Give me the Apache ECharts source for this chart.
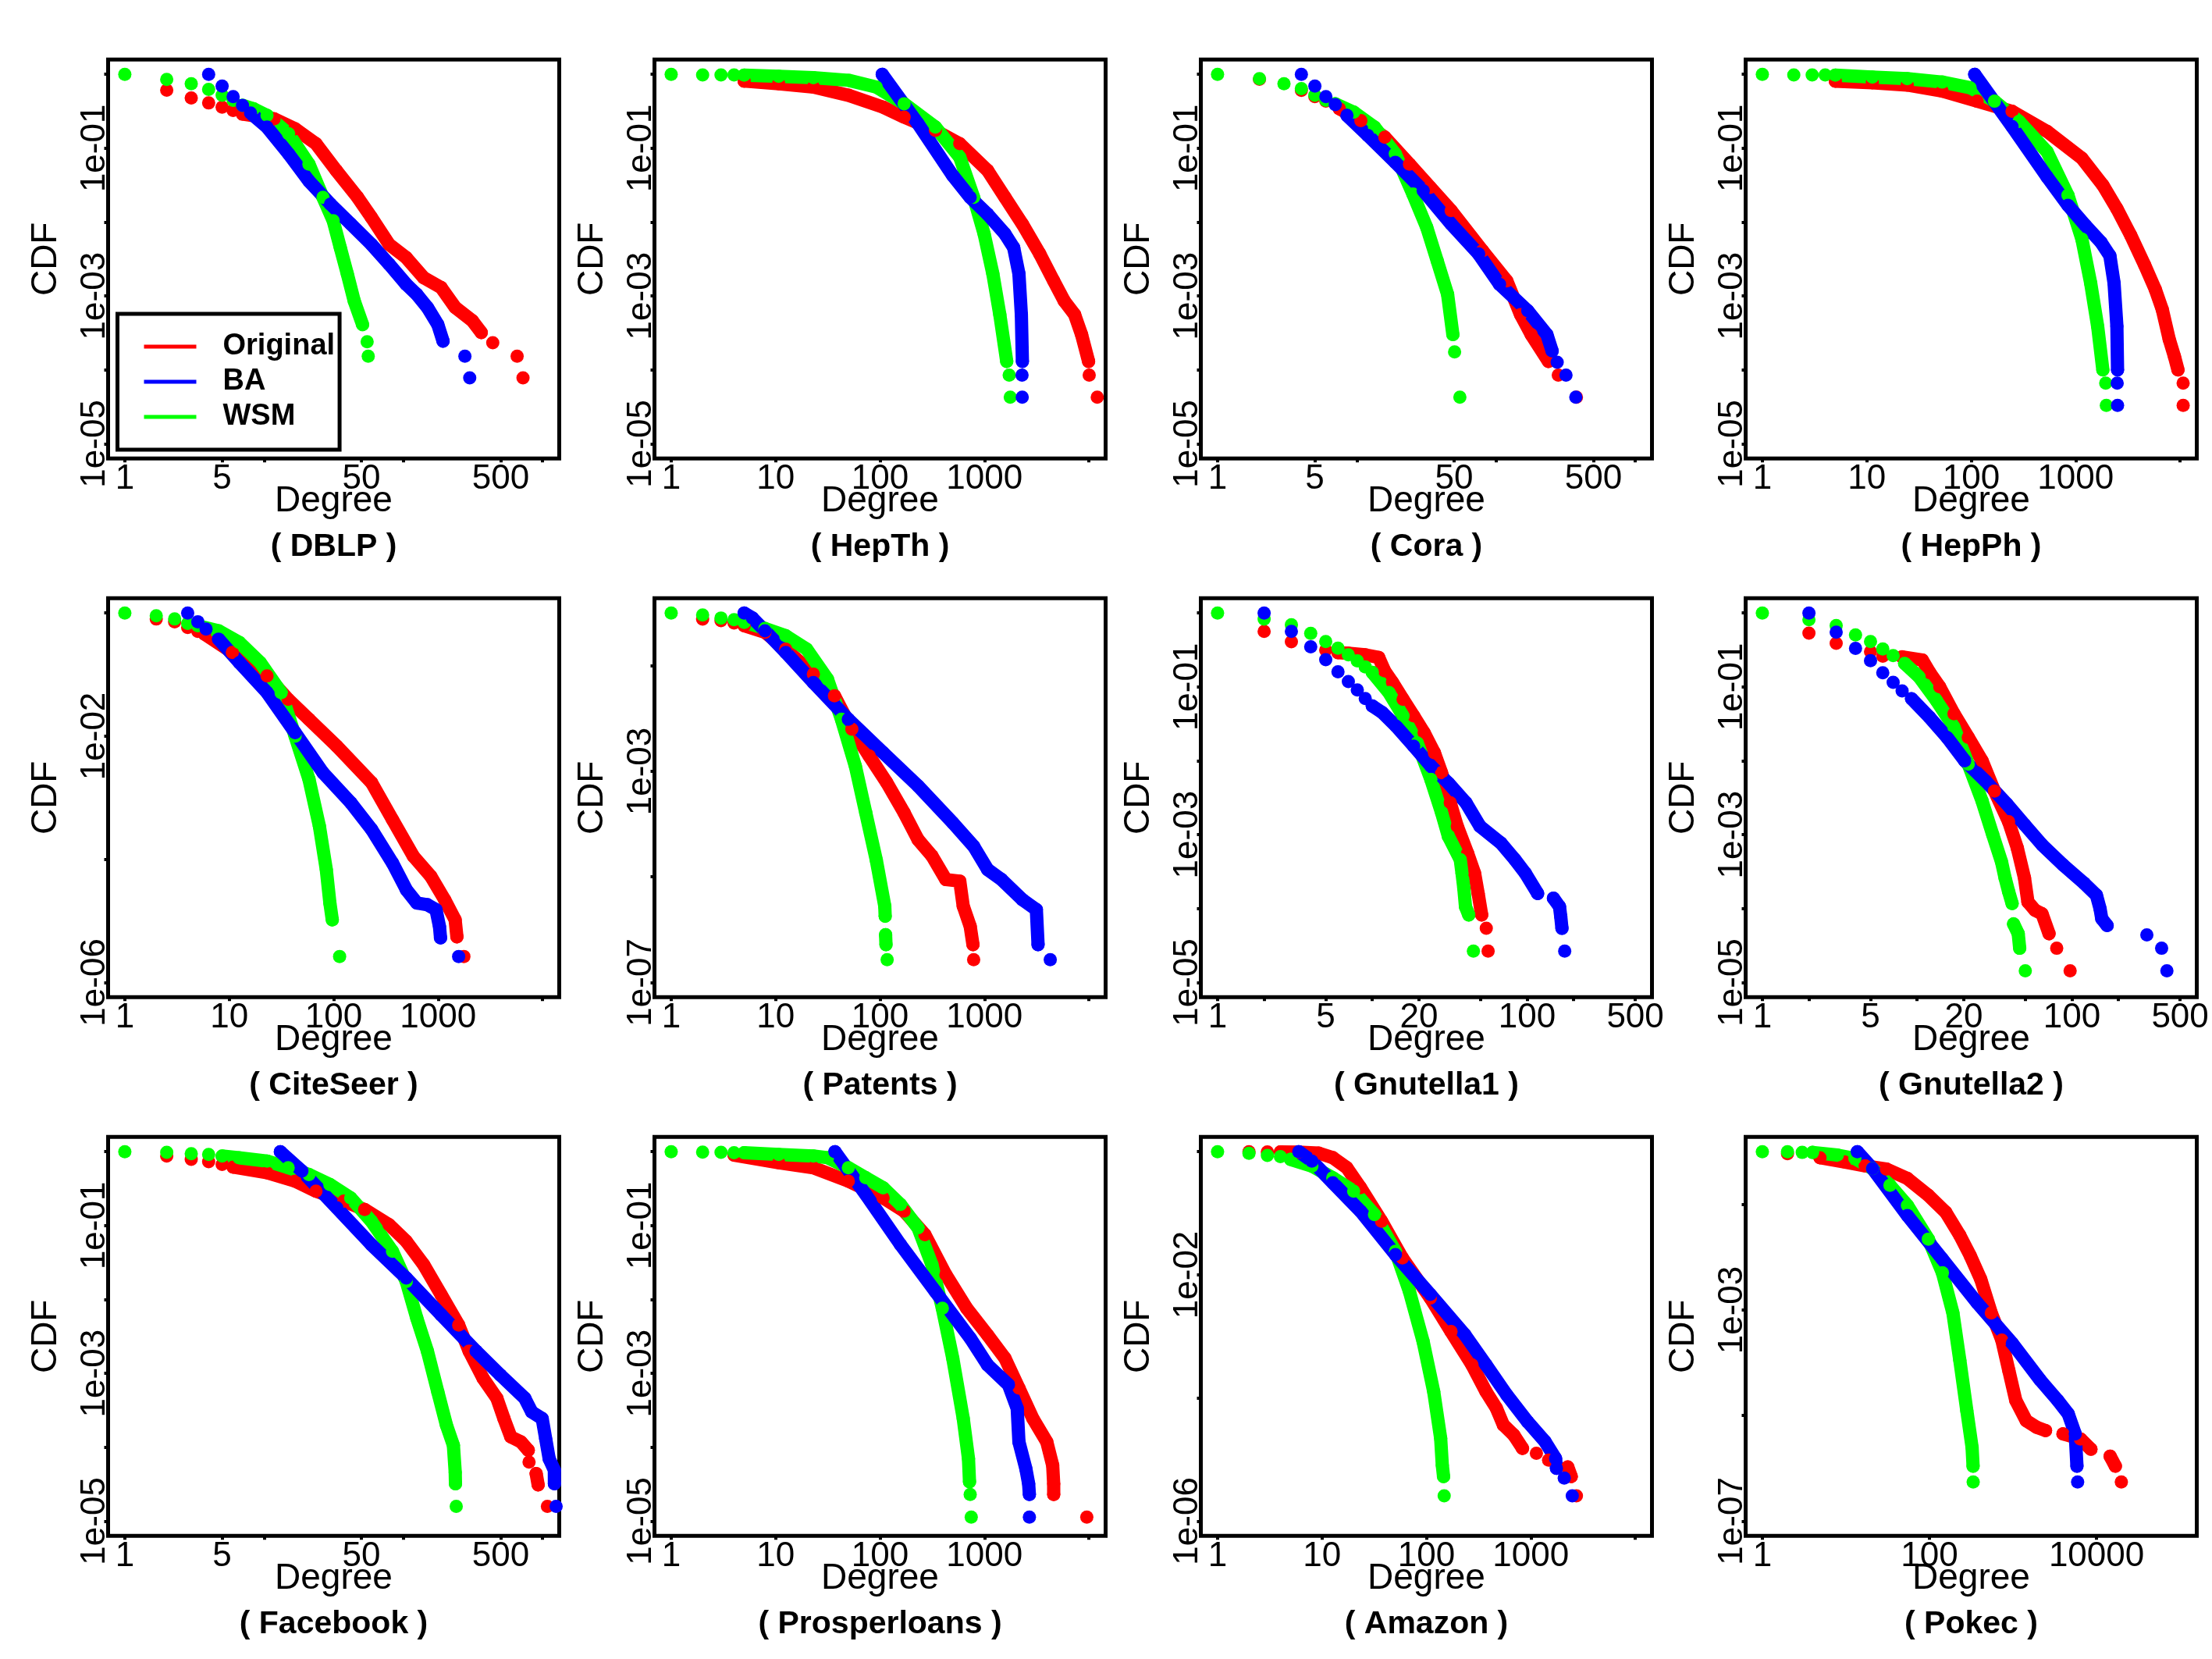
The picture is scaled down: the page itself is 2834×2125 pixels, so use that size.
<!DOCTYPE html>
<html>
<head>
<meta charset="utf-8">
<title>Degree CDF comparison</title>
<script src="https://cdn.jsdelivr.net/npm/echarts@6/dist/echarts.min.js"></script>
<style>
  html, body { margin: 0; padding: 0; background: #fff; }
  #chart { width: 2834px; height: 2125px; }
</style>
</head>
<body>
<div id="chart"></div>
<script>
"use strict";

// ---- tick values / axis limits (R style, 4% padding added below) ----
var xTicksFives = [1, 5, 10, 50, 100, 500, 1000], xLabelsFives = [1, 5, 50, 500], xLimFives = [1, 1000];
var xTicksTens = [1, 10, 100, 1000, 10000], xLabelsTens = [1, 10, 100, 1000], xLimTens = [1, 10000];
var xTicksGnut = [1, 2, 5, 10, 20, 50, 100, 200, 500], xLabelsGnut = [1, 5, 20, 100, 500], xLimGnut = [1, 500];
var xTicksPokec = [1, 100, 10000], xLabelsPokec = [1, 100, 10000], xLimPokec = [1, 100000];
var yTicks5 = [1e-5, 1e-4, 1e-3, 1e-2, 1e-1, 1], yLabels5 = [1e-5, 1e-3, 1e-1], yLim5 = [1e-5, 1];
var yTicks6 = [1e-6, 1e-4, 1e-2, 1], yLabels6 = [1e-6, 1e-2], yLim6 = [1e-6, 1];
var yTicks7 = [1e-7, 1e-5, 1e-3, 1e-1], yLabels7 = [1e-7, 1e-3], yLim7 = [1e-7, 1];

var seriesNames = ['Original', 'BA', 'WSM'];

// ---- data: [degree, CCDF]; each inner list is a run of touching dots ----
var dblpOriginal = [[[2, 0.61]], [[3, 0.48]], [[4, 0.41]], [[5, 0.36]], [[6, 0.325]],
  [[7, 0.29], [11.8, 0.25], [16.7, 0.183], [23.6, 0.115], [33, 0.05], [47, 0.0216], [59, 0.0116], [79, 0.005], [105, 0.0033], [140, 0.00177], [187, 0.0013], [236, 0.0007], [314, 0.00046], [363, 0.00032]],
  [[439, 0.000233]], [[657, 0.000153]], [[724, 0.000078]]];
var dblpBA = [[[4, 1]], [[5, 0.695]], [[6, 0.5]], [[7, 0.38]],
  [[8, 0.3], [10.5, 0.193], [15, 0.084], [21, 0.036], [30, 0.0175], [42, 0.0094], [59, 0.005], [79, 0.0027], [105, 0.00144], [125, 0.00105], [149, 0.0007], [177, 0.00041], [193, 0.000245]],
  [[277, 0.000153]], [[300, 0.000078]]];
var dblpWSM = [[[1, 1]], [[2, 0.855]], [[3, 0.747]], [[4, 0.626]], [[5, 0.52]], [[6, 0.444]],
  [[7, 0.38], [8.4, 0.342], [10.5, 0.278], [15, 0.157], [21, 0.061], [26.5, 0.0216], [31.4, 0.0104], [35.3, 0.0045], [39.6, 0.002], [44.4, 0.00086], [51, 0.00041]],
  [[55, 0.00024]], [[56, 0.000153]]];

var hepthOriginal = [[[5, 0.81], [10.7, 0.747], [23, 0.673], [50, 0.52], [107, 0.36], [170, 0.264], [339, 0.174], [580, 0.115], [1071, 0.05], [1573, 0.0216], [2308, 0.0094], [3388, 0.0037], [4603, 0.0016], [5797, 0.00086], [7300, 0.00056], [8511, 0.0003], [9931, 0.00013]],
  [[10070, 0.000085]], [[12023, 0.0000426]]];
var hepthBA = [[[105, 1], [231, 0.214], [497, 0.0426], [730, 0.0216], [1071, 0.0128], [1573, 0.0069], [1905, 0.0045], [2138, 0.002], [2256, 0.00056], [2308, 0.00013]],
  [[2290, 0.000085]], [[2300, 0.0000426]]];
var hepthWSM = [[[1, 1]], [[2, 0.98]], [[3, 0.98]], [[4, 0.98]],
  [[5, 0.975], [10.7, 0.94], [23, 0.9], [50, 0.83], [92, 0.673], [170, 0.4], [339, 0.193], [580, 0.0755], [788, 0.0216], [993, 0.0069], [1203, 0.002], [1402, 0.00056], [1634, 0.00013]],
  [[1725, 0.000085]], [[1765, 0.0000426]]];

var coraOriginal = [[[2, 0.86]], [[4, 0.607]], [[5, 0.5]], [[6, 0.434]],
  [[7.5, 0.342], [10.7, 0.237], [15.9, 0.141], [23.9, 0.061], [33.7, 0.0296], [47.6, 0.0143], [80, 0.0041], [119.5, 0.0016], [150, 0.00056], [179, 0.0003], [238, 0.00013]],
  [[280, 0.000085]], [[378, 0.0000426]]];
var coraBA = [[[4, 1]], [[5, 0.695]], [[6, 0.5]], [[7, 0.39]],
  [[8.5, 0.278], [12, 0.149], [18.9, 0.0645], [30, 0.0266], [47.6, 0.0094], [75, 0.0037], [106, 0.00144], [169, 0.00063], [232, 0.0003], [253, 0.00018]],
  [[275, 0.000127]], [[318, 0.000085]], [[374, 0.0000426]]];
var coraWSM = [[[1, 1]], [[2, 0.873]], [[3, 0.747]], [[4, 0.64]], [[5, 0.52]], [[6, 0.444]],
  [[7, 0.4], [9.5, 0.308], [13.4, 0.193], [18.9, 0.084], [25.3, 0.024], [31.8, 0.0085], [37.8, 0.003], [44.9, 0.00105], [49, 0.0003]],
  [[50.4, 0.000175]], [[55, 0.0000426]]];

var hepphOriginal = [[[5, 0.81], [11.3, 0.77], [24.4, 0.716], [52.7, 0.593], [114, 0.433], [246, 0.316], [532, 0.169], [1148, 0.073], [1823, 0.0316], [2483, 0.0152], [3375, 0.0066], [4594, 0.0026], [5790, 0.00123], [6750, 0.00066], [7870, 0.00026], [8830, 0.000152], [9550, 0.0001]],
  [[10700, 0.000066]], [[10710, 0.000033]]];
var hepphBA = [[[108, 1], [246, 0.197], [532, 0.041], [844, 0.0169], [1241, 0.009], [1754, 0.0053], [2128, 0.0035], [2333, 0.0015], [2483, 0.00039], [2519, 0.0001]],
  [[2500, 0.000066]], [[2519, 0.000033]]];
var hepphWSM = [[[1, 1]], [[2, 0.98]], [[3, 0.98]], [[4, 0.98]],
  [[5, 0.975], [11.3, 0.92], [24.4, 0.873], [52.7, 0.786], [97.7, 0.658], [167, 0.433], [287, 0.231], [532, 0.09], [844, 0.0231], [1148, 0.0059], [1392, 0.0015], [1624, 0.00039], [1822, 0.0001]],
  [[1940, 0.000066]], [[1968, 0.000033]]];

var citeseerOriginal = [[[2, 0.8]], [[3, 0.722]], [[4, 0.584]], [[5, 0.503]],
  [[5.8, 0.455], [10.7, 0.229], [23, 0.0955], [36.6, 0.0398], [58, 0.0188], [107, 0.0069], [231, 0.00175], [366, 0.00044], [580, 0.000112], [851, 0.000053], [1156, 0.000022], [1456, 0.0000104], [1514, 0.0000055]],
  [[1765, 0.00000264]]];
var citeseerBA = [[[4, 1]], [[5, 0.722]], [[6, 0.549]],
  [[7.9, 0.377], [12.5, 0.157], [23, 0.0511], [42.7, 0.0114], [79, 0.00255], [146, 0.00083], [231, 0.000305], [366, 0.000087], [497, 0.000032], [626, 0.0000195], [788, 0.0000183], [955, 0.0000152], [1031, 0.0000081], [1055, 0.0000053]],
  [[1573, 0.00000264]]];
var citeseerWSM = [[[1, 1]], [[2, 0.905]], [[3, 0.8]], [[4, 0.679]],
  [[5, 0.622], [7.9, 0.515], [12.5, 0.333], [19.8, 0.157], [31.4, 0.051], [42.7, 0.01], [58, 0.002], [73, 0.000345], [85, 0.000068], [92, 0.0000195], [97, 0.0000104]],
  [[114, 0.00000264]]];

var patentsOriginal = [[[2, 0.77]], [[3, 0.715]], [[4, 0.646]],
  [[5, 0.575], [7.9, 0.43], [12.5, 0.207], [23, 0.0695], [36.6, 0.027], [53.7, 0.0063], [78.8, 0.00196], [116, 0.00061], [170, 0.000164], [231, 0.000051], [314, 0.000025], [427, 0.0000089], [580, 0.0000083], [626, 0.0000028], [730, 0.00000116], [776, 0.00000052]],
  [[788, 0.000000269]]];
var patentsBA = [[[5, 1], [6, 0.804], [7.9, 0.462], [12.5, 0.179], [23, 0.0483], [49.7, 0.0097], [107, 0.00226], [231, 0.00053], [497, 0.000106], [788, 0.000038], [1071, 0.0000138], [1456, 0.0000089], [2308, 0.0000037], [3140, 0.0000024], [3260, 0.00000052]],
  [[4266, 0.000000269]]];
var patentsWSM = [[[1, 1]], [[2, 0.916]], [[3, 0.804]], [[4, 0.747]],
  [[5, 0.665], [7.9, 0.511], [12.5, 0.371], [19.8, 0.207], [31.4, 0.0558], [42.7, 0.0097], [58, 0.00126], [73, 0.000164], [92, 0.000021], [111, 0.0000028], [112, 0.0000018]],
  [[113, 0.0000008], [114, 0.00000052]], [[117, 0.000000269]]];

var gnut1Original = [[[2, 0.564]], [[3, 0.408]], [[5, 0.315]],
  [[6, 0.29], [7, 0.285], [9, 0.272], [11, 0.25], [12, 0.165], [13.5, 0.115], [15.8, 0.068], [18.5, 0.0404], [21.6, 0.024], [25.2, 0.0128], [28, 0.0069], [31.9, 0.0027], [35.4, 0.0013], [41.3, 0.00056], [45.8, 0.0003], [48.3, 0.00016], [50.9, 0.000082]],
  [[54.5, 0.000054]], [[56, 0.0000266]]];
var gnut1BA = [[[2, 1]], [[3, 0.564]], [[4, 0.349]], [[5, 0.233]], [[6, 0.16]], [[7, 0.118]], [[8, 0.091]], [[9, 0.0695]],
  [[10, 0.0552], [11.6, 0.0449], [14.2, 0.0296], [18.5, 0.0158], [23.9, 0.0085], [31, 0.005], [40.3, 0.0027], [49.6, 0.0013], [67.7, 0.00077], [83.4, 0.00046], [97.5, 0.0003], [117, 0.00016]],
  [[148, 0.000138], [162, 0.000106], [165, 0.000078], [168, 0.000054]], [[175, 0.0000266]]];
var gnut1WSM = [[[1, 1]], [[2, 0.829]], [[3, 0.695]], [[4, 0.53]], [[5, 0.412]], [[6, 0.335]], [[7, 0.272]], [[8, 0.225]], [[9, 0.187]],
  [[10, 0.157], [12.8, 0.084], [15.8, 0.0404], [19.5, 0.0175], [23.9, 0.0056], [28, 0.002], [31, 0.00095], [37, 0.00046], [38, 0.0003], [39, 0.00019], [40, 0.000106], [42, 0.000082]],
  [[45, 0.0000266]]];

var gnut2Original = [[[2, 0.534]], [[3, 0.39]], [[5, 0.3]], [[6, 0.26]],
  [[8, 0.255], [10.8, 0.231], [12.1, 0.155], [14, 0.1], [17.3, 0.0433], [21.4, 0.0208], [26.3, 0.01], [31.6, 0.0039], [39, 0.0015], [44.4, 0.00066], [49.4, 0.00026], [52, 0.000123], [57.7, 0.000095], [64.1, 0.000085], [71.2, 0.0000457]],
  [[79.8, 0.000029]], [[97.4, 0.0000144]]];
var gnut2BA = [[[2, 1]], [[3, 0.551]], [[4, 0.333]], [[5, 0.226]], [[6, 0.155]], [[7, 0.115]], [[8, 0.088]],
  [[9.2, 0.0693], [12, 0.039], [15.6, 0.0208], [20.3, 0.01], [27.7, 0.0053], [38, 0.0026], [49.4, 0.00137], [64.1, 0.00073], [87.7, 0.00039], [120, 0.00022], [144, 0.000152], [152, 0.0001], [156, 0.000073], [169, 0.000059]],
  [[305, 0.000044]], [[380, 0.000029]], [[411, 0.0000144]]];
var gnut2WSM = [[[1, 1]], [[2, 0.811]], [[3, 0.679]], [[4, 0.507]], [[5, 0.411]], [[6, 0.326]], [[7, 0.265]],
  [[8.3, 0.208], [10.3, 0.137], [13.3, 0.0658], [17.3, 0.0285], [21.4, 0.009], [26.3, 0.00285], [30.8, 0.001], [35.1, 0.00043], [37, 0.00026], [39, 0.00017], [41.1, 0.000117]],
  [[42, 0.000062], [45, 0.0000457], [46, 0.000029]], [[50, 0.0000144]]];

var fbOriginal = [[[2, 0.873]], [[3, 0.787]], [[4, 0.732]], [[5, 0.673]],
  [[6, 0.619], [10.5, 0.519], [16.7, 0.4], [23.6, 0.292], [37.4, 0.214], [52.8, 0.165], [79, 0.103], [105, 0.0613], [140, 0.0296], [187, 0.0116], [250, 0.0045], [297, 0.002], [374, 0.00086], [470, 0.00046], [528, 0.000245], [592, 0.000138], [700, 0.000118], [790, 0.000091]],
  [[800, 0.000063]], [[900, 0.000044], [930, 0.000031]], [[1084, 0.0000158]]];
var fbBA = [[[13.1, 1], [18.7, 0.547], [33.3, 0.174], [59, 0.0552], [105, 0.0195], [187, 0.0062], [333, 0.002], [498, 0.00095], [746, 0.00046], [837, 0.0003], [994, 0.000245], [1053, 0.000131], [1116, 0.00007], [1216, 0.000049], [1217, 0.000032]],
  [[1252, 0.0000158]]];
var fbWSM = [[[1, 1]], [[2, 0.98]], [[3, 0.94]], [[4, 0.92]],
  [[5, 0.873], [6.6, 0.829], [10.5, 0.747], [14.9, 0.607], [21, 0.492], [29.7, 0.36], [41.9, 0.237], [59, 0.1146], [83.6, 0.0449], [105, 0.0175], [125, 0.0056], [149, 0.002], [177, 0.00056], [204, 0.0002], [229, 0.000106], [236, 0.000046], [237, 0.000032]],
  [[240, 0.0000158]]];

var prospOriginal = [[[4, 0.9], [10.7, 0.709], [23, 0.607], [49.7, 0.4], [107, 0.237], [170, 0.157], [269, 0.0755], [427, 0.0216], [676, 0.0076], [1071, 0.0033], [1573, 0.0016], [2138, 0.00063], [2905, 0.000245], [3950, 0.000118], [4500, 0.000057], [4600, 0.000032], [4603, 0.000023]],
  [[9550, 0.0000113]]];
var prospBA = [[[37, 1], [73, 0.264], [157, 0.0552], [339, 0.0128], [730, 0.003], [1071, 0.0013], [1698, 0.0007], [2058, 0.000335], [2138, 0.000118], [2493, 0.000051], [2649, 0.000032], [2692, 0.000023]],
  [[2693, 0.0000113]]];
var prospWSM = [[[1, 1]], [[2, 0.99]], [[3, 0.98]], [[4, 0.97]],
  [[5, 0.97], [10.7, 0.92], [23, 0.873], [31.4, 0.83], [49.7, 0.607], [73, 0.444], [107, 0.325], [157, 0.193], [231, 0.093], [314, 0.0296], [395, 0.0076], [497, 0.0016], [626, 0.000245], [703, 0.00007], [719, 0.000034]],
  [[730, 0.000023]], [[747, 0.0000113]]];

var amazonOriginal = [[[2, 1]], [[3, 0.995]],
  [[4, 0.99], [5.9, 0.985], [9.3, 0.95], [12.7, 0.8], [17.3, 0.549], [23.4, 0.26], [37.2, 0.0744], [58.9, 0.0188], [109, 0.0042], [172, 0.0012], [273, 0.000345], [372, 0.000127], [468, 0.000068], [546, 0.0000365], [687, 0.000025], [832, 0.0000152]],
  [[1130, 0.0000126]], [[1479, 0.0000098]], [[2256, 0.0000076], [2437, 0.0000053]], [[2733, 0.00000257]]];
var amazonBA = [[[6, 1], [8, 0.705], [12.7, 0.313], [23.4, 0.108], [50.5, 0.0213], [109, 0.0048], [234, 0.00106], [372, 0.000345], [589, 0.000112], [933, 0.000041], [1371, 0.0000195], [1726, 0.0000104], [1760, 0.0000072]],
  [[2089, 0.000005]], [[2493, 0.00000257]]];
var amazonWSM = [[[1, 1]], [[2, 0.94]], [[3, 0.872]], [[4, 0.83]],
  [[5, 0.75], [8, 0.584], [12.7, 0.377], [20.1, 0.229], [31.8, 0.0955], [50.5, 0.0242], [68.7, 0.0054], [93, 0.00083], [117.5, 0.000127], [137, 0.000022], [142, 0.0000081], [146, 0.0000053]],
  [[148, 0.00000257]]];

var pokecOriginal = [[[2, 0.916]],
  [[4.9, 0.77], [9.6, 0.64], [17, 0.54], [30.6, 0.47], [54.5, 0.31], [97, 0.149], [157, 0.071], [231, 0.026], [309, 0.0106], [412, 0.0038], [550, 0.00088], [735, 0.00027], [891, 0.000072], [1080, 0.0000194], [1441, 0.000008], [1926, 0.000006], [2454, 0.0000052]],
  [[3970, 0.0000045], [6428, 0.0000036], [8570, 0.0000023]], [[14550, 0.0000017], [16820, 0.0000011]], [[19820, 0.00000055]]];
var pokecBA = [[[13.7, 1], [20.8, 0.48], [54.5, 0.0616], [143, 0.0092], [374, 0.00136], [981, 0.000234], [2120, 0.000047], [3435, 0.0000194], [4585, 0.0000108], [5560, 0.0000045], [5830, 0.0000011]],
  [[5940, 0.00000055]]];
var pokecWSM = [[[1, 1]], [[2, 1]], [[3, 0.97]],
  [[4, 0.97], [7.9, 0.863], [12.8, 0.746], [20.8, 0.48], [33.7, 0.231], [54.5, 0.0957], [97, 0.0221], [143, 0.0051], [191, 0.00088], [231, 0.000112], [280, 0.0000125], [324, 0.0000025], [333, 0.0000011]],
  [[334, 0.00000055]]];

// ---- panel table (row-major) ----
var xFives = {ticks: xTicksFives, labels: xLabelsFives, lim: xLimFives};
var xTens = {ticks: xTicksTens, labels: xLabelsTens, lim: xLimTens};
var xGnut = {ticks: xTicksGnut, labels: xLabelsGnut, lim: xLimGnut};
var xPokec = {ticks: xTicksPokec, labels: xLabelsPokec, lim: xLimPokec};
var y5 = {ticks: yTicks5, labels: yLabels5, lim: yLim5};
var y6 = {ticks: yTicks6, labels: yLabels6, lim: yLim6};
var y7 = {ticks: yTicks7, labels: yLabels7, lim: yLim7};

var panels = [
  {name: 'DBLP', x: xFives, y: y5, data: [dblpOriginal, dblpBA, dblpWSM]},
  {name: 'HepTh', x: xTens, y: y5, data: [hepthOriginal, hepthBA, hepthWSM]},
  {name: 'Cora', x: xFives, y: y5, data: [coraOriginal, coraBA, coraWSM]},
  {name: 'HepPh', x: xTens, y: y5, data: [hepphOriginal, hepphBA, hepphWSM]},
  {name: 'CiteSeer', x: xTens, y: y6, data: [citeseerOriginal, citeseerBA, citeseerWSM]},
  {name: 'Patents', x: xTens, y: y7, data: [patentsOriginal, patentsBA, patentsWSM]},
  {name: 'Gnutella1', x: xGnut, y: y5, data: [gnut1Original, gnut1BA, gnut1WSM]},
  {name: 'Gnutella2', x: xGnut, y: y5, data: [gnut2Original, gnut2BA, gnut2WSM]},
  {name: 'Facebook', x: xFives, y: y5, data: [fbOriginal, fbBA, fbWSM]},
  {name: 'Prosperloans', x: xTens, y: y5, data: [prospOriginal, prospBA, prospWSM]},
  {name: 'Amazon', x: xTens, y: y6, data: [amazonOriginal, amazonBA, amazonWSM]},
  {name: 'Pokec', x: xPokec, y: y7, data: [pokecOriginal, pokecBA, pokecWSM]}
];

// ---- styling / layout ----
var FONT = '"Liberation Sans", Arial, Helvetica, sans-serif';
var COLORS = {Original: '#ff0000', BA: '#0000ff', WSM: '#00ff00'};
var DRAW_ORDER = [0, 2, 1];          // red, then green, blue on top
var GRID_LEFT = [138.5, 838.5, 1538.5, 2236.5];
var GRID_TOP = [76.3, 766.3, 1456.3];
var GRID_W = 578, GRID_H = 511;
var DOT = 17;

// R pads each log axis by 4% of its range
function padded(lim) {
    var a = Math.log10(lim[0]), b = Math.log10(lim[1]), d = (b - a) * 0.04;
    return [Math.pow(10, a - d), Math.pow(10, b + d)];
}

function sciLabel(v) {
    var e = Math.round(Math.log10(v));
    return '1e' + (e < 0 ? '-' : '+') + String(Math.abs(e)).padStart(2, '0');
}

var grids = [], xAxes = [], yAxes = [], titles = [], series = [];

panels.forEach(function (p, i) {
    var col = i % 4, row = Math.floor(i / 4);
    var left = GRID_LEFT[col], top = GRID_TOP[row];
    var xr = padded(p.x.lim), yr = padded(p.y.lim);

    grids.push({
        left: left, top: top, width: GRID_W, height: GRID_H,
        show: true, borderColor: '#000', borderWidth: 5,
        backgroundColor: 'rgba(0,0,0,0)',
        containLabel: false, outerBoundsMode: 'none'
    });

    xAxes.push({
        type: 'log', logBase: 10, gridIndex: i, min: xr[0], max: xr[1],
        name: 'Degree', nameLocation: 'middle', nameGap: 32, nameMoveOverlap: false,
        nameTextStyle: {fontFamily: FONT, fontSize: 46, lineHeight: 46, color: '#000'},
        axisLine: {show: false},
        axisTick: {show: true, customValues: p.x.ticks, length: 5, lineStyle: {color: '#000', width: 4}},
        axisLabel: {
            customValues: p.x.labels, margin: 5, hideOverlap: false,
            fontFamily: FONT, fontSize: 44, lineHeight: 44, color: '#000',
            formatter: function (v) { return String(Math.round(v)); }
        },
        splitLine: {show: false}, minorTick: {show: false}
    });

    yAxes.push({
        type: 'log', logBase: 10, gridIndex: i, min: yr[0], max: yr[1],
        name: 'CDF', nameLocation: 'middle', nameGap: 56, nameRotate: 90, nameMoveOverlap: false,
        nameTextStyle: {fontFamily: FONT, fontSize: 46, lineHeight: 46, color: '#000'},
        axisLine: {show: false},
        axisTick: {show: true, customValues: p.y.ticks, length: 5, lineStyle: {color: '#000', width: 4}},
        axisLabel: {
            customValues: p.y.labels, rotate: 90, margin: -5, hideOverlap: false,
            fontFamily: FONT, fontSize: 44, lineHeight: 44, color: '#000',
            formatter: sciLabel
        },
        splitLine: {show: false}, minorTick: {show: false}
    });

    titles.push({
        text: '( ' + p.name + ' )', left: left + GRID_W / 2, top: top + 604, textAlign: 'center',
        padding: 0,
        textStyle: {fontFamily: FONT, fontSize: 41, lineHeight: 41, fontWeight: 'bold', color: '#000'}
    });

    DRAW_ORDER.forEach(function (k) {
        var name = seriesNames[k], color = COLORS[name];
        p.data[k].forEach(function (run) {
            series.push({
                type: 'line', name: name, xAxisIndex: i, yAxisIndex: i, data: run,
                symbol: 'circle', symbolSize: DOT, showSymbol: true, clip: false,
                itemStyle: {color: color},
                lineStyle: {color: color, width: DOT, cap: 'round', join: 'round'},
                emphasis: {disabled: true}, silent: true, animation: false
            });
        });
    });
});

var chart = echarts.init(document.getElementById('chart'), null, {renderer: 'canvas'});
chart.setOption({
    backgroundColor: '#fff',
    animation: false,
    title: titles,
    grid: grids,
    xAxis: xAxes,
    yAxis: yAxes,
    legend: {
        data: seriesNames, orient: 'vertical', left: 150.5, top: 402,
        padding: [23, 6, 23, 34], itemGap: 7, itemWidth: 67, itemHeight: 5, icon: 'rect',
        borderColor: '#000', borderWidth: 5, backgroundColor: '#fff', selectedMode: false,
        textStyle: {fontFamily: FONT, fontSize: 38, lineHeight: 38, fontWeight: 'bold', color: '#000', padding: [0, 0, 0, 29]}
    },
    series: series
});

window.onresize = function () {
    chart.resize();
};
</script>
</body>
</html>
